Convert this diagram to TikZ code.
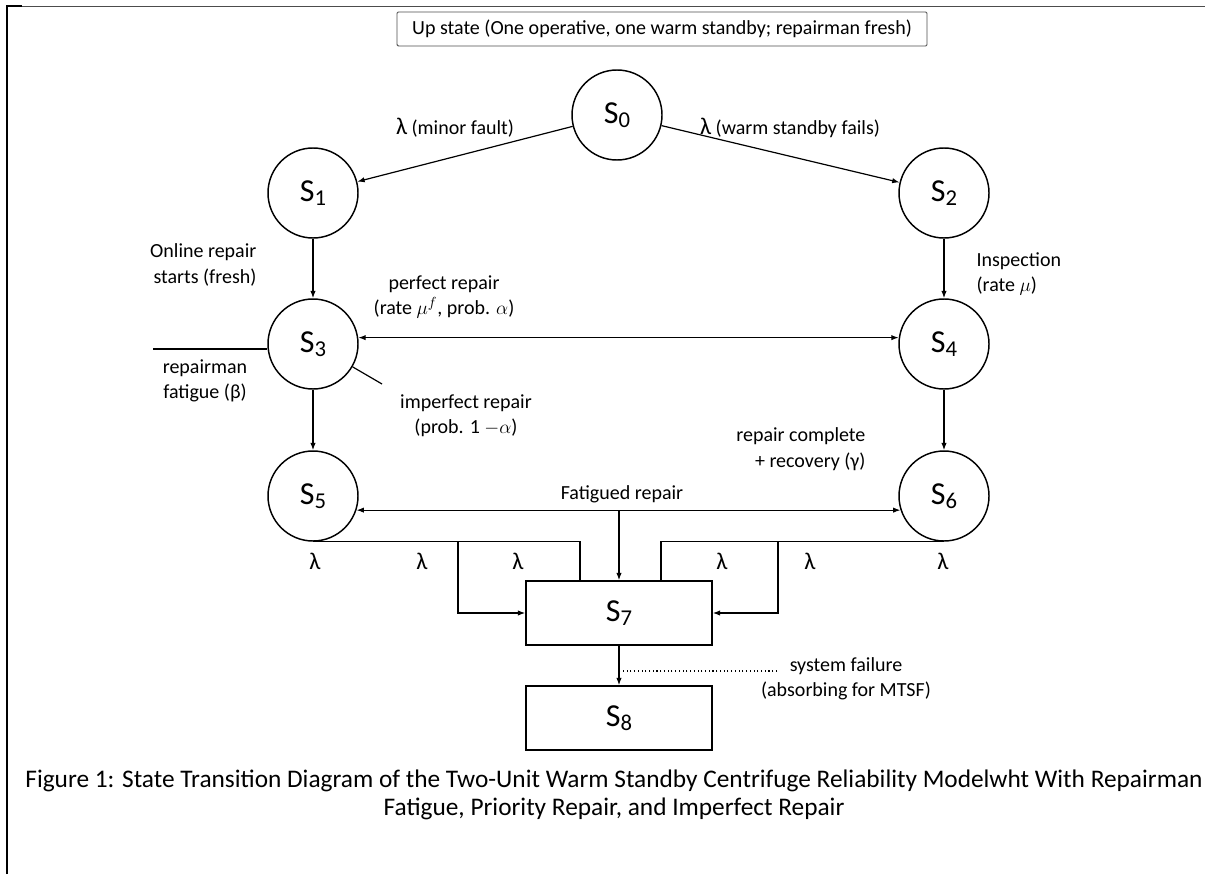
\documentclass[tikz,border=0pt]{standalone}
\usepackage{fontspec}
\setmainfont{Carlito}
\usetikzlibrary{arrows.meta, calc}

\newcommand{\stname}[1]{S\raisebox{-0.3ex}{\fontsize{17}{17}\selectfont #1}}
\newcommand{\lam}{{\fontsize{18}{18}\selectfont λ}}

\begin{document}
\begin{tikzpicture}[x=0.75pt, y=-0.75pt,
  every node/.style={font=\fontsize{15}{19}\selectfont},
  state/.style={draw, circle, line width=1.1pt, minimum size=67.5pt,
                inner sep=0pt, font=\fontsize{24}{24}\selectfont},
  sbox/.style={draw, rectangle, line width=1.1pt, minimum width=139.5pt,
               minimum height=48pt, inner sep=0pt, font=\fontsize{24}{24}\selectfont},
  flow/.style={-{Latex[length=5.5pt,width=4pt]}, line width=0.9pt},
  both/.style={{Latex[length=5.5pt,width=4pt]}-{Latex[length=5.5pt,width=4pt]}, line width=0.9pt},
  plain/.style={line width=0.9pt},
  lbl/.style={align=center, inner sep=1pt}
]
\useasboundingbox (0,0) rectangle (1205,874);

% page frame
\draw[line width=2pt] (7,874) -- (7,6) -- (22,6);
\draw[line width=0.6pt, black!70] (22,6) -- (1205,6);

\node[draw=black!70, line width=0.7pt, rounded corners=1pt, minimum width=397.5pt,
      minimum height=25.5pt] (up) at (662,29)
  {Up state (One operative, one warm standby; repairman fresh)};

% states
\node[state] (s0) at (617,115) {\stname{0}};
\node[state] (s1) at (313,193) {\stname{1}};
\node[state] (s2) at (944,193) {\stname{2}};
\node[state] (s3) at (313,344) {\stname{3}};
\node[state] (s4) at (944,344) {\stname{4}};
\node[state] (s5) at (313,496) {\stname{5}};
\node[state] (s6) at (944,496) {\stname{6}};
\node[sbox] (s7) at (619,613) {\stname{7}};
\node[sbox] (s8) at (619,718) {\stname{8}};

% transitions
\draw[flow] (s0) -- (s1);
\draw[flow] (s0) -- (s2);
\draw[flow] (s1) -- (s3);
\draw[flow] (s2) -- (s4);
\draw[both] (s3.8) -- (s4.172);
\draw[flow] (s3) -- (s5);
\draw[flow] (s4) -- (s6);
\draw[both] (s5.-18) -- (s6.198);
\draw[flow] (s7.north |- s5.-18) -- (s7.north);

\coordinate (fl) at (153,349);
\draw[plain] (fl) -- (fl -| s3.west);
\coordinate (ir) at (382,384);
\draw[plain] (s3.-30) -- (ir);

\draw[plain] (s5.south) -| ($(s7.north)+(-39,0)$);
\draw[flow] ($(s5.south)+(145,0)$) |- (s7.west);
\draw[plain] (s6.south) -| ($(s7.north)+(42,0)$);
\draw[flow] ($(s6.south)+(-166,0)$) |- (s7.east);

\draw[flow] (s7) -- (s8);
\coordinate (sf) at (777,671);
\draw[dotted, line width=0.8pt] (sf) -- (sf -| s7.south);

% labels
\node[lbl] (minor) at (455,128) {\lam{} (minor fault)};
\node[lbl] (warm) at (790,128) {\lam{} (warm standby fails)};
\node[lbl, align=right, anchor=east] (online) at (258,265) {Online repair\\starts (fresh)};
\node[lbl, align=left, anchor=west] (insp) at (975,274) {Inspection\\(rate $\mu$)};
\node[lbl] (perf) at (444,297) {perfect repair\\(rate $\mu^{f}$, prob. $\alpha$)};
\node[lbl] (fatig) at (205,381) {repairman\\fatigue (β)};
\node[lbl] (imperf) at (466,416) {imperfect repair\\(prob. 1 $-\alpha$)};
\node[lbl, align=right, anchor=east] (recov) at (867,449) {repair complete\\+ recovery (γ)};
\node[lbl] (fatrep) at (622,494) {Fatigued repair};
\node[lbl] (sfl) at (846,679) {system failure\\(absorbing for MTSF)};

\foreach \xx/\nm in {315/l1, 422/l2, 518/l3, 722/l4, 810/l5, 943/l6}
  \node[lbl] (\nm) at (\xx,561) {\lam};

\node[font=\fontsize{19}{21}\selectfont, align=center] (cap) at (614,795)
  {Figure 1: State Transition Diagram of the Two-Unit Warm Standby Centrifuge Reliability Modelwht With Repairman\\
   Fatigue, Priority Repair, and Imperfect Repair};
\end{tikzpicture}
\end{document}
